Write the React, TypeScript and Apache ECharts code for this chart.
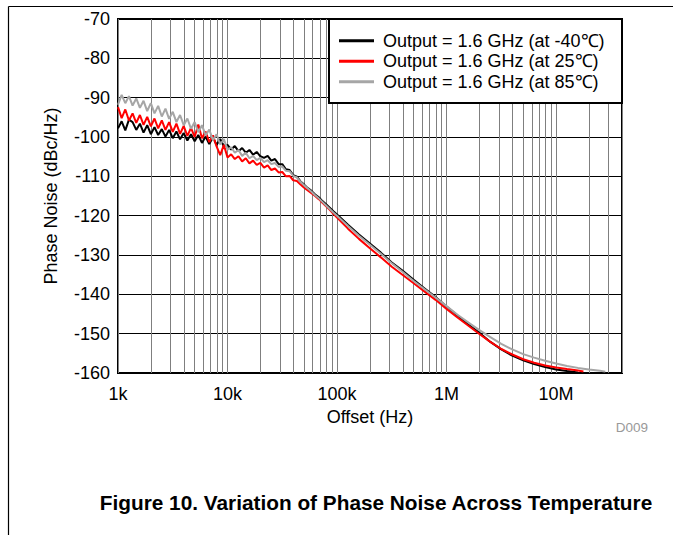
import React, { useEffect, useRef } from 'react';
import * as echarts from 'echarts';

const FREQ_HZ = [
  1000, 1080, 1166, 1259, 1359, 1468, 1585, 1711, 1848, 1995,
  2154, 2326, 2512, 2712, 2929, 3162, 3415, 3687, 3981, 4299,
  4642, 5012, 5412, 5843, 6310, 6813, 7356, 7943, 8577, 9261,
  10000, 10798, 11659, 12589, 13594, 14678, 15849, 17113, 18478, 19953,
  21544, 23263, 25119, 27123, 29286, 31623, 34145, 36869, 39811, 42987,
  46416, 50119, 54117, 58434, 63096, 68129, 73564, 79433, 85770, 92611,
  100000, 125893, 158489, 199526, 251189, 316228, 398107, 501187, 630957, 794328,
  1000000, 1258925, 1584893, 1995262, 2511886, 3162278, 3981072, 5011872, 6309573, 7943282,
  10000000, 12589254, 15848932, 17782794, 19952623, 25118864, 28183829,
];

const PN_M40C = [
  -97.8, -96.0, -98.3, -95.6, -96.2, -98.2, -96.6, -98.9, -97.0, -99.3,
  -97.5, -99.5, -98.0, -99.9, -98.2, -100.3, -98.6, -100.6, -99.0, -100.9,
  -99.3, -101.1, -99.5, -101.5, -99.9, -101.8, -100.1, -102.0, -100.5, -102.3,
  -102.0, -103.2, -102.3, -103.6, -102.8, -104.0, -103.3, -104.5, -103.8, -104.9,
  -105.3, -104.8, -106.0, -105.6, -106.9, -106.9, -108.2, -108.4, -109.7, -110.1,
  -111.3, -112.1, -113.0, -113.7, -114.6, -115.3, -116.3, -117.1, -118.0, -118.9,
  -119.7, -122.3, -124.8, -127.1, -129.4, -131.9, -134.0, -136.3, -138.5, -140.7,
  -143.1, -145.4, -147.7, -149.8, -152.1, -154.0, -155.6, -156.8, -157.7, -158.5,
  -159.1, -159.5, -159.85, null, null, null, null,
];

const PN_25C = [
  -92.4, -95.2, -93.0, -95.8, -94.0, -96.4, -94.4, -96.9, -94.9, -97.3,
  -95.3, -97.8, -95.8, -98.2, -96.2, -98.7, -96.6, -99.2, -97.2, -99.7,
  -97.7, -100.0, -96.8, -100.3, -98.6, -101.3, -99.6, -102.4, -104.6, -102.0,
  -105.2, -104.4, -105.6, -104.9, -106.2, -105.4, -106.7, -106.0, -107.1, -106.6,
  -107.8, -107.2, -108.4, -108.0, -109.0, -108.9, -110.0, -109.9, -111.0, -111.2,
  -112.1, -112.9, -113.6, -114.3, -115.0, -115.8, -116.7, -117.6, -118.5, -119.5,
  -120.5, -123.3, -125.9, -128.3, -130.6, -133.0, -135.1, -137.2, -139.3, -141.4,
  -143.7, -145.9, -148.0, -150.1, -152.1, -153.9, -155.3, -156.5, -157.4, -158.1,
  -158.6, -159.0, -159.35, -159.6, null, null, null,
];

const PN_85C = [
  -91.8, -89.3, -91.4, -89.6, -92.0, -90.2, -92.6, -90.8, -93.4, -91.4,
  -94.0, -92.1, -94.8, -92.8, -95.4, -93.6, -96.2, -94.4, -97.0, -95.3,
  -97.9, -96.2, -98.8, -97.0, -99.6, -98.1, -100.8, -99.3, -101.9, -100.5,
  -103.2, -102.6, -104.0, -103.3, -104.8, -104.0, -105.4, -104.8, -105.9, -105.3,
  -106.4, -105.9, -106.9, -106.6, -107.6, -107.5, -108.6, -108.7, -109.9, -110.3,
  -111.4, -112.3, -113.1, -113.9, -114.8, -115.6, -116.5, -117.4, -118.3, -119.2,
  -120.0, -122.6, -125.1, -127.4, -129.7, -132.1, -134.3, -136.6, -138.7, -140.8,
  -143.0, -145.2, -147.2, -149.1, -150.9, -152.6, -154.0, -155.2, -156.1, -156.9,
  -157.6, -158.2, -158.7, -158.9, -159.1, -159.45, -159.65,
];

const SERIES_NAMES = [
  'Output = 1.6 GHz (at -40\u2103)',
  'Output = 1.6 GHz (at 25\u2103)',
  'Output = 1.6 GHz (at 85\u2103)',
];
const SERIES_COLORS = ['#000000', '#ff0000', '#a6a6a6'];

const X_TICK_VALUES = [1000, 10000, 100000, 1000000, 10000000];
const X_TICK_LABELS = ['1k', '10k', '100k', '1M', '10M'];
const X_MIN = 1000;
const X_MAX = 40000000;
const Y_MIN = -160;
const Y_MAX = -70;
const Y_STEP = 10;

const FONT = '"Liberation Sans", Arial, Helvetica, sans-serif';

function pairs(values: (number | null)[]) {
  const out: [number, number][] = [];
  values.forEach((v, i) => {
    if (v !== null) out.push([FREQ_HZ[i], v]);
  });
  return out;
}

function minorGridValues() {
  const vals: number[] = [];
  for (let d = 1000; d < X_MAX; d *= 10) {
    for (let k = 2; k <= 9; k++) {
      const v = d * k;
      if (v < X_MAX) vals.push(v);
    }
  }
  return vals;
}

export default function App() {
  const ref = useRef<HTMLDivElement>(null);

  useEffect(() => {
    if (!ref.current) return;
    const chart = echarts.init(ref.current, undefined, { renderer: 'svg' });
    const gridLeft = 118;
    const gridTop = 19;
    const gridRight = 622;
    const gridBottom = 373;

    const series: any[] = [PN_M40C, PN_25C, PN_85C].map((vals, i) => ({
      name: SERIES_NAMES[i],
      type: 'line',
      data: pairs(vals),
      symbol: 'none',
      showSymbol: false,
      smooth: false,
      lineStyle: { color: SERIES_COLORS[i], width: 2 },
      itemStyle: { color: SERIES_COLORS[i] },
      z: 2 + i,
      silent: true,
    }));
    series[0].markLine = {
      silent: true,
      z: 1,
      symbol: ['none', 'none'],
      label: { show: false },
      emphasis: { disabled: true },
      lineStyle: { color: '#7f7f7f', width: 1, type: 'solid' },
      data: minorGridValues().map((v) => ({ xAxis: v })),
    };

    chart.setOption({
      animation: false,
      backgroundColor: '#ffffff',
      textStyle: { fontFamily: FONT },
      grid: {
        left: gridLeft,
        top: gridTop,
        width: gridRight - gridLeft,
        height: gridBottom - gridTop,
        show: true,
        borderColor: '#000',
        borderWidth: 2,
        backgroundColor: 'transparent',
        containLabel: false,
      },
      legend: {
        show: true,
        orient: 'vertical',
        left: 339,
        top: 30.7,
        padding: 0,
        itemGap: 0.5,
        itemWidth: 35,
        itemHeight: 3,
        icon: 'rect',
        selectedMode: false,
        data: SERIES_NAMES,
        textStyle: {
          fontFamily: FONT,
          fontSize: 18,
          color: '#000',
          lineHeight: 20,
          padding: [0, 0, 0, 4],
        },
        z: 6,
      },
      xAxis: {
        type: 'log',
        logBase: 10,
        min: X_MIN,
        max: X_MAX,
        name: 'Offset (Hz)',
        nameLocation: 'middle',
        nameGap: 29,
        nameTextStyle: { fontFamily: FONT, fontSize: 18, color: '#000' },
        axisLine: { show: false },
        axisTick: { show: false },
        axisLabel: {
          fontFamily: FONT,
          fontSize: 18,
          color: '#000',
          margin: 12,
          showMaxLabel: false,
          formatter: (v: number) => {
            const idx = X_TICK_VALUES.findIndex((t) => Math.abs(t - v) / t < 1e-6);
            return idx >= 0 ? X_TICK_LABELS[idx] : '';
          },
        },
        splitLine: { show: true, lineStyle: { color: '#7f7f7f', width: 1 } },
        minorTick: { show: false },
      },
      yAxis: {
        type: 'value',
        min: Y_MIN,
        max: Y_MAX,
        interval: Y_STEP,
        name: 'Phase Noise (dBc/Hz)',
        nameLocation: 'middle',
        nameGap: 58,
        nameTextStyle: { fontFamily: FONT, fontSize: 18, color: '#000' },
        axisLine: { show: false },
        axisTick: { show: false },
        axisLabel: { fontFamily: FONT, fontSize: 18, color: '#000', margin: 8 },
        splitLine: { show: true, lineStyle: { color: '#000', width: 1 } },
      },
      graphic: [
        {
          type: 'line',
          shape: { x1: 8.5, y1: 6.5, x2: 673, y2: 6.5 },
          style: { stroke: '#000', lineWidth: 1.2 },
          z: 10,
        },
        {
          type: 'line',
          shape: { x1: 8.5, y1: 6.5, x2: 8.5, y2: 535 },
          style: { stroke: '#000', lineWidth: 1.2 },
          z: 10,
        },
        {
          type: 'rect',
          shape: { x: 329, y: 19, width: 293, height: 84 },
          style: { fill: '#fff', stroke: '#000', lineWidth: 2 },
          z: 5,
        },
        {
          type: 'text',
          x: 632,
          y: 427,
          style: {
            text: 'D009',
            fontFamily: FONT,
            fontSize: 13.5,
            fill: '#999999',
            align: 'center',
            verticalAlign: 'middle',
          },
          z: 10,
        },
        {
          type: 'text',
          x: 376,
          y: 502,
          style: {
            text: 'Figure 10. Variation of Phase Noise Across Temperature',
            fontFamily: FONT,
            fontSize: 20.8,
            fontWeight: 'bold',
            fill: '#000',
            align: 'center',
            verticalAlign: 'middle',
          },
          z: 10,
        },
      ],
      series,
    });

    return () => {
      chart.dispose();
    };
  }, []);

  return (
    <div
      ref={ref}
      style={{
        position: 'fixed',
        left: 0,
        top: 0,
        width: '673px',
        height: '535px',
        background: '#fff',
      }}
    />
  );
}
